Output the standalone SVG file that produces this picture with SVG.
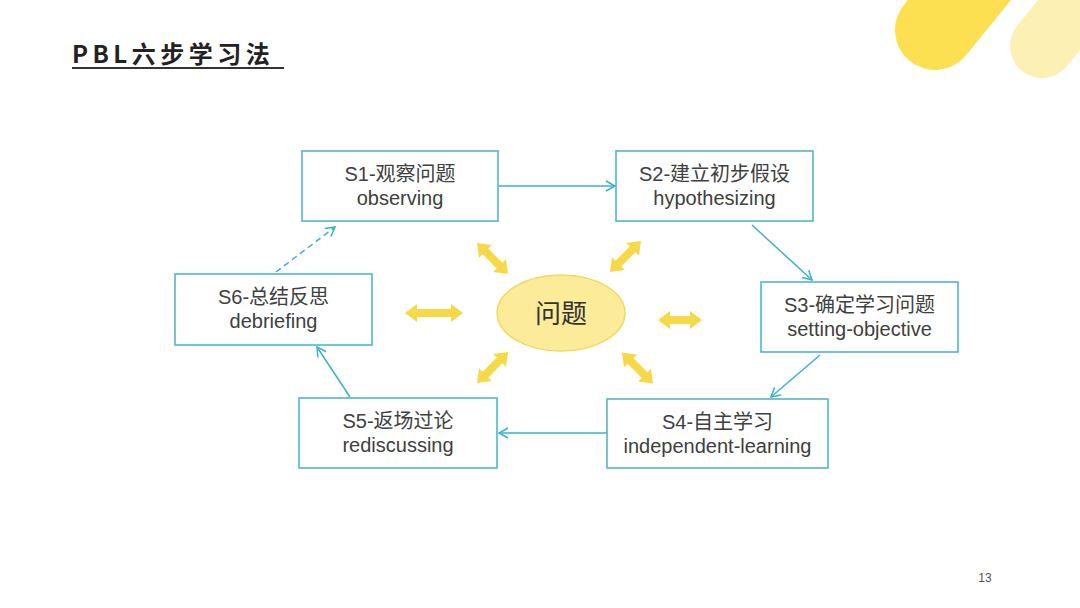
<svg xmlns="http://www.w3.org/2000/svg" width="1080" height="608" viewBox="0 0 1080 608">
<style>
.box{fill:#ffffff;stroke:#4fb8c9;stroke-width:1.6}
.lbl{font-family:"Liberation Sans","Noto Sans CJK SC",sans-serif;font-size:20px;fill:#404040;text-anchor:middle}
.con{fill:none;stroke:#3bb2ca;stroke-width:1.5}
.ya{fill:#f6d849}
</style>
<defs>
<marker id="ah" markerUnits="userSpaceOnUse" markerWidth="14" markerHeight="14" refX="10" refY="6" orient="auto" viewBox="0 0 14 12">
<path d="M1,1 L10,6 L1,11" fill="none" stroke="#3bb2ca" stroke-width="1.5"/>
</marker>
<path id="da44" d="M-22,0 L-10,-9 L-10,-4 L10,-4 L10,-9 L22,0 L10,9 L10,4 L-10,4 L-10,9 Z"/>
<path id="da58" d="M-29,0 L-17,-9 L-17,-4 L17,-4 L17,-9 L29,0 L17,9 L17,4 L-17,4 L-17,9 Z"/>
</defs>
<rect width="1080" height="608" fill="#ffffff"/>
<g id="deco">
<line x1="1042" y1="46" x2="1120" y2="-50" stroke="#fcf0b4" stroke-width="64" stroke-linecap="round"/>
<line x1="935" y1="30" x2="1010" y2="-62" stroke="#fddf52" stroke-width="80" stroke-linecap="round"/>
</g>
<g id="title">
<text x="72" y="63" font-family="'Noto Sans CJK SC','Liberation Sans',sans-serif" font-weight="bold" font-size="24" letter-spacing="4.5" fill="#222">PBL六步学习法</text>
<line x1="72" y1="68" x2="284" y2="68" stroke="#333" stroke-width="2"/>
</g>
<g id="connectors">
<line class="con" x1="499" y1="186" x2="615" y2="186" marker-end="url(#ah)"/>
<line class="con" x1="752" y1="225" x2="812" y2="280" marker-end="url(#ah)"/>
<line class="con" x1="820" y1="355" x2="771" y2="397" marker-end="url(#ah)"/>
<line class="con" x1="607" y1="433" x2="499" y2="433" marker-end="url(#ah)"/>
<line class="con" x1="350" y1="397" x2="317" y2="347" marker-end="url(#ah)"/>
<line class="con" x1="276" y1="272" x2="335" y2="227" stroke-dasharray="6,4" marker-end="url(#ah)"/>
</g>
<g id="yellow-arrows" class="ya">
<use href="#da58" transform="translate(434,313)"/>
<use href="#da44" transform="translate(680,320)"/>
<use href="#da44" transform="translate(492.5,258.5) rotate(45)"/>
<use href="#da44" transform="translate(625.5,256.5) rotate(-45)"/>
<use href="#da44" transform="translate(492.5,367.5) rotate(-45)"/>
<use href="#da44" transform="translate(637.5,368) rotate(45)"/>
</g>
<g id="center">
<ellipse cx="561" cy="313" rx="64" ry="38" fill="#fcec9a" stroke="#f3d860" stroke-width="1.5"/>
<text x="561" y="323" font-family="'Noto Sans CJK SC',sans-serif" font-size="26" fill="#333" text-anchor="middle">问题</text>
</g>
<g id="s1">
<rect class="box" x="302" y="151" width="196" height="70"/>
<text class="lbl" x="400" y="181">S1-观察问题</text>
<text class="lbl" x="400" y="205">observing</text>
</g>
<g id="s2">
<rect class="box" x="616" y="151" width="197" height="70"/>
<text class="lbl" x="714.5" y="181">S2-建立初步假设</text>
<text class="lbl" x="714.5" y="205">hypothesizing</text>
</g>
<g id="s3">
<rect class="box" x="761" y="282" width="197" height="70"/>
<text class="lbl" x="859.5" y="312">S3-确定学习问题</text>
<text class="lbl" x="859.5" y="336">setting-objective</text>
</g>
<g id="s4">
<rect class="box" x="607" y="399" width="221" height="69"/>
<text class="lbl" x="717.5" y="429">S4-自主学习</text>
<text class="lbl" x="717.5" y="453">independent-learning</text>
</g>
<g id="s5">
<rect class="box" x="299" y="398" width="198" height="70"/>
<text class="lbl" x="398" y="428">S5-返场过论</text>
<text class="lbl" x="398" y="452">rediscussing</text>
</g>
<g id="s6">
<rect class="box" x="175" y="274" width="197" height="71"/>
<text class="lbl" x="273.5" y="304">S6-总结反思</text>
<text class="lbl" x="273.5" y="328">debriefing</text>
</g>
<text x="985" y="582" font-family="'Liberation Sans',sans-serif" font-size="12" fill="#555" text-anchor="middle">13</text>
</svg>
